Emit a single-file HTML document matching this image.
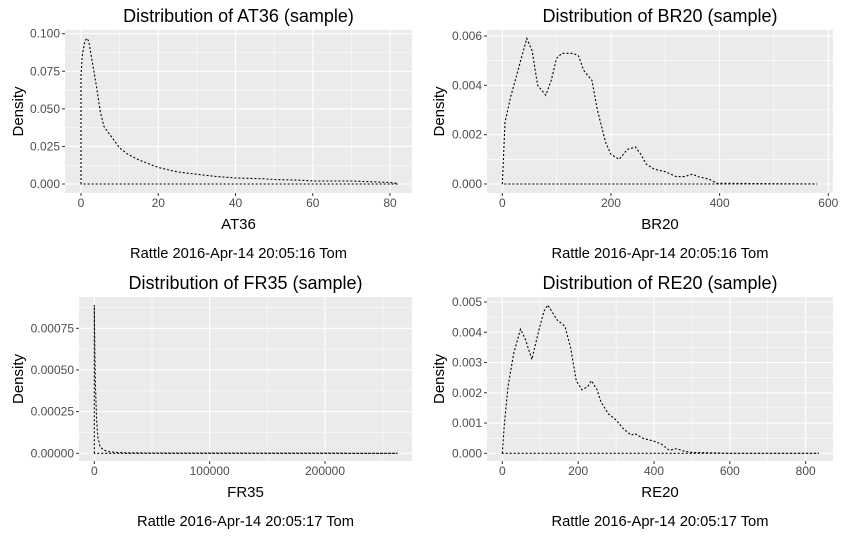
<!DOCTYPE html>
<html><head><meta charset="utf-8"><style>
body{margin:0;background:#fff;}
svg{display:block;font-family:"Liberation Sans",Arial,sans-serif;}
</style></head><body>
<svg id="s" width="842" height="537" viewBox="0 0 842 537"></svg>
<script>
const at36X=[0,0.3,1,1.5,2,3,4,5,6,8,10,12,15,18,20,25,30,35,40,47,50,57,60,70,72,80,82];
const at36Y=[0.072,0.085,0.095,0.097,0.095,0.080,0.065,0.048,0.038,0.031,0.024,0.020,0.016,0.013,0.011,0.008,0.0065,0.005,0.004,0.0035,0.003,0.0025,0.002,0.002,0.0018,0.001,0.0003];
const br20X=[0,5,15,30,45,55,65,80,90,100,110,130,140,150,165,175,190,200,215,230,245,255,265,280,300,320,335,350,360,380,395,580];
const br20Y=[0,0.0025,0.0035,0.0047,0.0059,0.0054,0.0040,0.0036,0.0042,0.0051,0.0053,0.0053,0.0052,0.0046,0.0042,0.0030,0.0017,0.0012,0.0010,0.0014,0.0015,0.0012,0.0008,0.0006,0.0005,0.0003,0.0003,0.0004,0.0003,0.0002,0.00003,0];
const fr35X=[0,200,500,1000,2000,3000,5000,8000,12000,20000,30000,263000];
const fr35Y=[0.00089,0.00075,0.0006,0.0004,0.0002,0.0001,0.00004,0.00002,0.00001,0.000005,0.000002,0];
const re20X=[0,5,15,30,48,60,78,95,110,120,130,145,165,180,195,210,225,235,250,260,280,300,320,340,350,370,400,420,440,460,480,500,600,835];
const re20Y=[0,0.0009,0.0022,0.0033,0.0041,0.0038,0.0031,0.0040,0.0047,0.0049,0.0047,0.0044,0.0042,0.0035,0.0024,0.0021,0.0022,0.0024,0.0021,0.0017,0.0013,0.0011,0.0008,0.0006,0.00065,0.0005,0.0004,0.0003,0.0001,0.00015,0.00007,0.00003,0,0];
const at36XTicks=[0,20,40,60,80], at36YTicks=[0,0.025,0.05,0.075,0.1], at36YLabels=["0.000","0.025","0.050","0.075","0.100"];
const br20XTicks=[0,200,400,600], br20YTicks=[0,0.002,0.004,0.006], br20YLabels=["0.000","0.002","0.004","0.006"];
const fr35XTicks=[0,100000,200000], fr35YTicks=[0,0.00025,0.0005,0.00075], fr35YLabels=["0.00000","0.00025","0.00050","0.00075"];
const re20XTicks=[0,200,400,600,800], re20YTicks=[0,0.001,0.002,0.003,0.004,0.005], re20YLabels=["0.000","0.001","0.002","0.003","0.004","0.005"];

const NS="http://www.w3.org/2000/svg", S=document.getElementById('s');
function el(t,a,p){const e=document.createElementNS(NS,t);for(const k in a)e.setAttribute(k,a[k]);(p||S).appendChild(e);return e;}
function panel(o){
  const g=el('g',{});
  
  
  const sx=v=>o.x0px+(v-o.x0)*(o.x1px-o.x0px)/(o.x1-o.x0);
  const sy=v=>o.y0px+(v-o.y0)*(o.y1px-o.y0px)/(o.y1-o.y0);
  const bg=el('rect',{x:o.L,y:o.T,width:o.R-o.L,height:o.B-o.T,fill:'#ebebeb'},g);
  
  
  const xt=o.xt, yt=o.yt;
  for(let i=0;i<=xt.length;i++){const d=xt[1]-xt[0];const v=(i<xt.length?xt[i]:xt[xt.length-1]+d)-d/2;const p=sx(v);if(p>o.L&&p<o.R)el('line',{x1:p,x2:p,y1:o.T,y2:o.B,stroke:'#fff','stroke-width':0.55},g);}
  for(let i=0;i<=yt.length;i++){const d=yt[1]-yt[0];const v=(i<yt.length?yt[i]:yt[yt.length-1]+d)-d/2;const p=sy(v);if(p>o.T&&p<o.B)el('line',{x1:o.L,x2:o.R,y1:p,y2:p,stroke:'#fff','stroke-width':0.55},g);}
  xt.forEach(v=>{const p=sx(v);el('line',{x1:p,x2:p,y1:o.T,y2:o.B,stroke:'#fff','stroke-width':1.1},g);
    el('line',{x1:p,x2:p,y1:o.B,y2:o.B+3,stroke:'#333','stroke-width':1},g);
    const t=el('text',{x:p,y:o.B+14,'font-size':12,fill:'#4d4d4d','text-anchor':'middle'},g);t.textContent=String(v);
    });
  yt.forEach((v,i)=>{const p=sy(v);el('line',{x1:o.L,x2:o.R,y1:p,y2:p,stroke:'#fff','stroke-width':1.1},g);
    el('line',{x1:o.L-3,x2:o.L,y1:p,y2:p,stroke:'#333','stroke-width':1},g);
    const t=el('text',{x:o.L-5,y:p+4,'font-size':12,fill:'#4d4d4d','text-anchor':'end'},g);t.textContent=o.yl[i];
    });
  let d='M'+sx(o.xs[0])+','+sy(0);
  o.xs.forEach((x,i)=>{d+=' L'+sx(x).toFixed(2)+','+sy(o.ys[i]).toFixed(2);});
  d+=' L'+sx(o.xs[o.xs.length-1])+','+sy(0)+' Z';
  const c=el('path',{d:d,fill:'none',stroke:'#000','stroke-width':1.1,'stroke-dasharray':'2,2'},g);
  
  
  const cx=(o.L+o.R)/2;
  const ti=el('text',{x:cx,y:o.T-8,'font-size':18,'text-anchor':'middle',fill:'#000'},g);ti.textContent='Distribution of '+o.name+' (sample)';
  
  const xa=el('text',{x:cx,y:o.B+36,'font-size':15,'text-anchor':'middle',fill:'#000'},g);xa.textContent=o.name;
  
  const ya=el('text',{x:0,y:0,'font-size':15,'text-anchor':'middle',fill:'#000',transform:'translate('+(o.panelX+23)+','+((o.T+o.B)/2)+') rotate(-90)'},g);ya.textContent='Density';
  
  const ca=el('text',{x:cx,y:o.B+65,'font-size':14.7,'text-anchor':'middle',fill:'#000'},g);ca.textContent='Rattle '+o.stamp+' Tom';
  
}
panel({key:'at36',name:'AT36',xs:at36X,ys:at36Y,xt:at36XTicks,yt:at36YTicks,yl:at36YLabels,L:65,R:412,T:30,B:193,panelX:0,
  x0:0,x1:80,x0px:81,x1px:390,y0:0,y1:0.1,y0px:184,y1px:33.7,stamp:'2016-Apr-14 20:05:16'});
panel({key:'br20',name:'BR20',xs:br20X,ys:br20Y,xt:br20XTicks,yt:br20YTicks,yl:br20YLabels,L:487,R:833,T:30,B:193,panelX:421,
  x0:0,x1:600,x0px:502.3,x1px:828.3,y0:0,y1:0.006,y0px:184,y1px:36,stamp:'2016-Apr-14 20:05:16'});
panel({key:'fr35',name:'FR35',xs:fr35X,ys:fr35Y,xt:fr35XTicks,yt:fr35YTicks,yl:fr35YLabels,L:79,R:412,T:297,B:461,panelX:0,
  x0:0,x1:200000,x0px:94.3,x1px:325,y0:0,y1:0.00075,y0px:453.3,y1px:328.3,stamp:'2016-Apr-14 20:05:17'});
panel({key:'re20',name:'RE20',xs:re20X,ys:re20Y,xt:re20XTicks,yt:re20YTicks,yl:re20YLabels,L:487,R:833,T:297,B:461,panelX:421,
  x0:0,x1:800,x0px:502.3,x1px:805.7,y0:0,y1:0.005,y0px:453.3,y1px:302,stamp:'2016-Apr-14 20:05:17'});
</script>
</body></html>
